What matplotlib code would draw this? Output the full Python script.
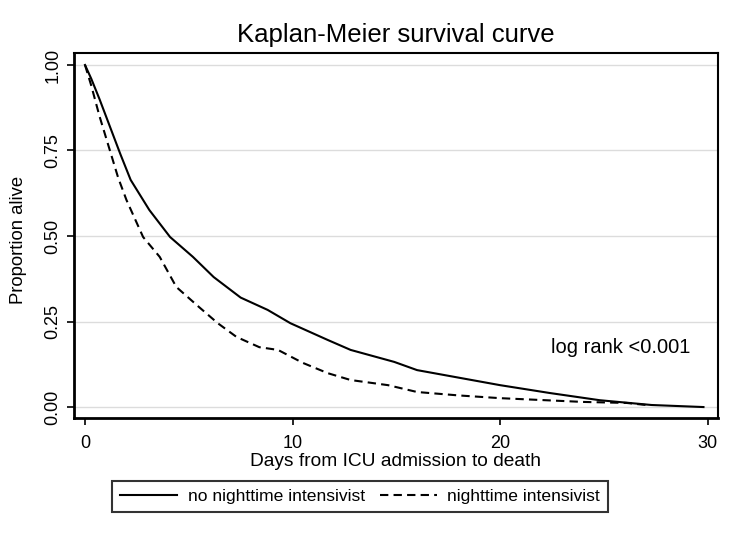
import matplotlib
matplotlib.use("Agg")
import matplotlib.pyplot as plt

plt.rcParams['font.family'] = ['Liberation Sans', 'DejaVu Sans']

# Data
days_no = [0, 0.3, 0.7, 1.2, 1.7, 2.2, 3.1, 4.1, 5.2, 6.2, 7.5, 8.8, 9.9, 11.7, 12.8, 14.9, 16.0, 18.0, 20.0, 22.4, 24.8, 27.3, 29.8]
surv_no = [1.0, 0.96, 0.90, 0.82, 0.74, 0.664, 0.576, 0.497, 0.439, 0.38, 0.32, 0.284, 0.245, 0.196, 0.167, 0.132, 0.108, 0.086, 0.064, 0.041, 0.020, 0.006, 0.0]
days_ni = [0, 0.3, 0.7, 1.2, 1.6, 2.0, 2.8, 3.6, 4.4, 5.5, 6.4, 7.3, 8.4, 9.3, 10.5, 11.7, 12.8, 14.6, 16.0, 18.0, 20.0, 24.0, 26.1, 27.2]
surv_ni = [1.0, 0.94, 0.85, 0.75, 0.67, 0.605, 0.497, 0.439, 0.351, 0.292, 0.245, 0.205, 0.175, 0.167, 0.129, 0.099, 0.079, 0.064, 0.044, 0.034, 0.026, 0.015, 0.012, 0.005]
xticks = [0, 10, 20, 30]
yticks = [0.0, 0.25, 0.5, 0.75, 1.0]
ytick_labels = ['0.00', '0.25', '0.50', '0.75', '1.00']

fig = plt.figure(figsize=(7.4, 5.39), dpi=100)
ax = fig.add_axes([74/740, 1-418/539, (718-74)/740, (418-53)/539])

ax.plot(days_no, surv_no, color='black', lw=1.5, ls='-', label='no nighttime intensivist')
ax.plot(days_ni, surv_ni, color='black', lw=1.5, ls=(0, (4, 2.5)), label='nighttime intensivist')

ax.set_xlim(-0.53, 30.5)
ax.set_ylim(-0.032, 1.035)
ax.set_xticks(xticks)
ax.set_yticks(yticks)
ax.set_yticklabels(ytick_labels, rotation=90, va='center')
ax.tick_params(direction='out', length=5, width=1.2, labelsize=13, color='black', pad=4)
ax.tick_params(axis='x', pad=7)
ax.grid(axis='y', color='#dcdcdc', lw=1.0)
ax.set_axisbelow(True)
for s in ['left', 'bottom']:
    ax.spines[s].set_linewidth(2.0)
for s in ['top', 'right']:
    ax.spines[s].set_linewidth(1.5)

ax.set_xlabel('Days from ICU admission to death', fontsize=13.8)
ax.set_ylabel('Proportion alive', fontsize=13.3)
ax.xaxis.set_label_coords((396-74)/644, (418-453)/365)
ax.yaxis.set_label_coords((27-74)/644, (418-240)/365)
fig.text(396/740, 1-35/539, 'Kaplan-Meier survival curve', ha='center', va='center', fontsize=18.5)
ax.text(25.8, 0.173, 'log rank <0.001', fontsize=14.5, ha='center', va='center')

leg = fig.legend(loc='center', bbox_to_anchor=(360/740, 1-496/539), ncol=2, fontsize=12.6,
                 frameon=True, fancybox=False, edgecolor='black', handlelength=3.25,
                 columnspacing=0.85, handletextpad=0.6, borderpad=0.45, borderaxespad=0)
leg.get_frame().set_linewidth(1.5)

fig.savefig('out.png', dpi=100)
